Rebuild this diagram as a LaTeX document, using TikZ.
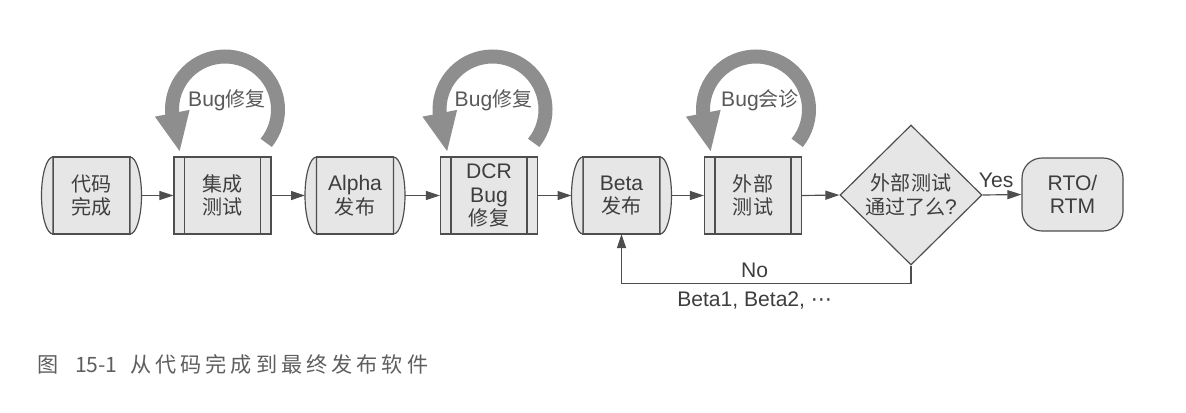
\documentclass[tikz,border=0pt]{standalone}
\usepackage{fontspec}
\setmainfont{Liberation Sans}
\newfontfamily\cjk[Scale=0.95]{Noto Sans CJK SC}
\newfontfamily\capfont[Scale=0.95,LetterSpace=19]{Noto Sans CJK SC}
\newfontfamily\symfont{DejaVu Sans}
\usetikzlibrary{arrows.meta,shapes.geometric,calc}

\definecolor{boxfill}{HTML}{E6E6E6}
\definecolor{boxline}{HTML}{4E4E4E}
\definecolor{loopgray}{HTML}{8E8E8E}
\definecolor{txtgray}{HTML}{3E3E3E}
\definecolor{capgray}{HTML}{5E5E5E}

\begin{document}
\begin{tikzpicture}[x=0.03cm,y=0.03cm,
   font=\fontsize{18}{20}\selectfont, text=txtgray,
   box/.style={draw=boxline, fill=boxfill, line width=1pt, align=center, inner sep=0pt},
   proc/.style={box, minimum width=2.91cm, minimum height=2.31cm,
      path picture={\draw[boxline, line width=1pt]
         ([xshift=0.315cm]path picture bounding box.north west) -- ([xshift=0.315cm]path picture bounding box.south west)
         ([xshift=-0.315cm]path picture bounding box.north east) -- ([xshift=-0.315cm]path picture bounding box.south east);}},
   stored/.style={box, minimum width=2.31cm, minimum height=2.31cm, outer xsep=0.345cm, outer ysep=0pt},
   flow/.style={draw=boxline, line width=1pt, -{Triangle[length=0.42cm,width=0.27cm]}},
   fixloop/.style={draw=loopgray, line width=0.42cm, -{Triangle[length=1.2cm,width=0.96cm]}},
   looplabel/.style={text=black!65}]

   \useasboundingbox (0,0) rectangle (1186,-412);

   \node[stored] (code)  at (91.5,-195.5) {{\cjk 代码}\\{\cjk 完成}};
   \node[proc]   (integ) at (222.5,-195.5) {{\cjk 集成}\\{\cjk 测试}};
   \node[stored] (alpha) at (355,-195.5) {Alpha\\{\cjk 发布}};
   \node[proc]   (dcr)   at (489,-195.5) {DCR\\Bug\\{\cjk 修复}};
   \node[stored] (beta)  at (621.5,-195.5) {Beta\\{\cjk 发布}};
   \node[proc]   (ext)   at (753,-195.5) {{\cjk 外部}\\{\cjk 测试}};
   \node[box, diamond, minimum width=4.26cm, minimum height=4.2cm] (check) at (911,-195)
      {{\cjk 外部测试}\\{\cjk 通过了么}?};
   \node[box, rounded corners=0.6cm, minimum width=3.03cm, minimum height=2.19cm] (rto) at (1072.5,-194.5)
      {RTO/\\RTM};

   % curved sides
   \foreach \n in {code,alpha,beta}{
      \filldraw[box] ([xshift=-0.345cm]\n.north east) arc[x radius=11.5, y radius=38.5, start angle=90, end angle=-90] -- cycle;
      \filldraw[box] ([xshift=0.345cm]\n.north west) arc[x radius=11.5, y radius=38.5, start angle=90, end angle=270] -- cycle;
   }

   \draw[flow] (code.east) -- (integ.west);
   \draw[flow] (integ.east) -- (alpha.west);
   \draw[flow] (alpha.east) -- (dcr.west);
   \draw[flow] (dcr.east) -- (beta.west);
   \draw[flow] (beta.east) -- (ext.west);
   \draw[flow] (ext.east) -- (check.west);
   \draw[flow] (check.east) -- node[above=2pt, pos=0.35] {Yes} (rto.west);
   \draw[flow] (check.south) -- ++(0,-18) -| node[pos=0.27, above=1pt] {No}
      node[pos=0.27, below=3pt] {Beta1, Beta2, {\symfont ⋯}} (beta.south);

   % loops
   \coordinate (l1) at ($(integ) + (2.5,86)$);
   \coordinate (l2) at ($(dcr) + (3.5,86)$);
   \coordinate (l3) at ($(ext) + (3,86)$);

   \draw[fixloop] (l1) ++(-39:53) arc[start angle=-39, end angle=183, radius=53] -- ++(-79:41);
   \draw[fixloop] (l2) ++(-39:53) arc[start angle=-39, end angle=183, radius=53] -- ++(-79:41);
   \draw[fixloop] (l3) ++(-39:53) arc[start angle=-39, end angle=183, radius=53] -- ++(-79:41);

   \node[looplabel] (fix1) at ($(l1) + (2,9.5)$) {Bug{\cjk 修复}};
   \node[looplabel] (fix2) at ($(l2) + (1,9.5)$) {Bug{\cjk 修复}};
   \node[looplabel] (triage) at ($(l3) + (4,9.5)$) {Bug{\cjk 会诊}};

   \node[anchor=west, inner sep=0pt, text=capgray, font=\fontsize{19}{21}\selectfont] (caption) at (37,-364)
      {{\cjk 图}\hspace{0.5cm}{\cjk 15-1}\hspace{0.38cm}{\capfont 从代码完成到最终发布软件}};

\end{tikzpicture}
\end{document}
